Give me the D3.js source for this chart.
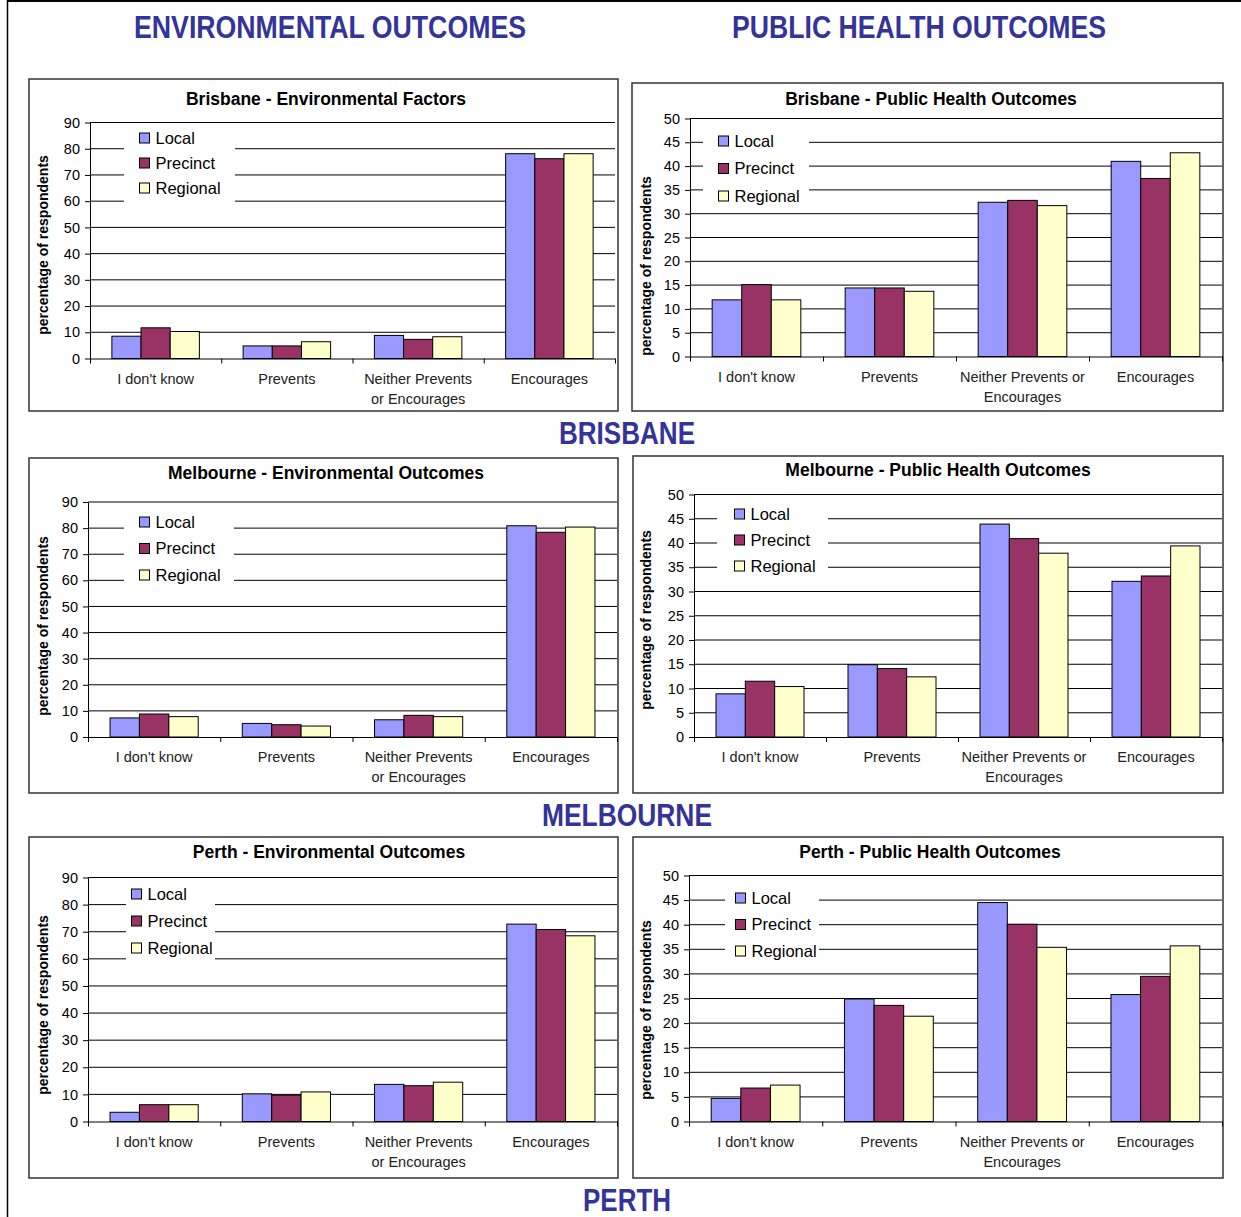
<!DOCTYPE html>
<html>
<head>
<meta charset="utf-8">
<script src="https://cdn.jsdelivr.net/npm/d3@7"></script>
<style>
  body { margin: 0; background: #fff; }
  svg text { font-family: "Liberation Sans", Arial, sans-serif; }
</style>
</head>
<body>
<div id="page"></div>
<script>
const seriesNames = ['Local', 'Precinct', 'Regional'];
const seriesColors = ['#9999ff', '#993366', '#ffffcc'];
const categories = ["I don't know", 'Prevents', 'Neither Prevents or Encourages', 'Encourages'];
const envCategoryLines = [["I don't know"], ['Prevents'], ['Neither Prevents', 'or Encourages'], ['Encourages']];
const healthCategoryLines = [["I don't know"], ['Prevents'], ['Neither Prevents or', 'Encourages'], ['Encourages']];
const envTicks = [0, 10, 20, 30, 40, 50, 60, 70, 80, 90];
const healthTicks = [0, 5, 10, 15, 20, 25, 30, 35, 40, 45, 50];
const pageHeadings = ['ENVIRONMENTAL OUTCOMES', 'PUBLIC HEALTH OUTCOMES'];
const cityHeadings = ['BRISBANE', 'MELBOURNE', 'PERTH'];

// one row per series (Local, Precinct, Regional), one value per category
const brisbaneEnv = [[8.5, 4.8, 8.8, 78.1], [11.7, 4.8, 7.3, 76.2], [10.3, 6.4, 8.3, 78.1]];
const brisbaneHealth = [[11.9, 14.4, 32.4, 41.0], [15.1, 14.4, 32.8, 37.4], [11.9, 13.7, 31.7, 42.8]];
const melbourneEnv = [[7.3, 5.2, 6.6, 80.9], [8.8, 4.7, 8.3, 78.4], [7.8, 4.2, 7.8, 80.4]];
const melbourneHealth = [[8.9, 14.9, 43.9, 32.1], [11.5, 14.1, 40.9, 33.2], [10.4, 12.4, 37.9, 39.4]];
const perthEnv = [[3.4, 10.2, 13.7, 72.8], [6.2, 9.7, 13.2, 70.8], [6.2, 10.9, 14.5, 68.5]];
const perthHealth = [[4.7, 24.9, 44.5, 25.8], [6.8, 23.6, 40.1, 29.5], [7.4, 21.4, 35.4, 35.7]];

class BarPanel {
  constructor(svg, opts) {
    this.svg = svg;
    this.opts = opts;
    this.g = null;
    this.xScale = null;
    this.yScale = null;
  }

  render() {
    this.g = this.svg.append('g');
    this.drawFrame();
    this.initScales();
    this.drawGrid();
    this.drawBars();
    this.drawAxes();
    this.drawLegend();
    this.drawLabels();
  }

  drawFrame() {
    let b = this.opts.box;
    this.g.append('rect')
      .attr('x', b[0]).attr('y', b[1])
      .attr('width', b[2] - b[0]).attr('height', b[3] - b[1])
      .attr('fill', '#fff')
      .attr('stroke', '#333')
      .attr('stroke-width', 1.5);
  }

  initScales() {
    let p = this.opts.plot;
    let ticks = this.opts.ticks;
    this.xScale = d3.scaleBand().domain(categories).range([p[0], p[2]]);
    this.yScale = d3.scaleLinear().domain([0, ticks[ticks.length - 1]]).range([p[3], p[1]]);
    // Excel gap width 150%
    this.barWidth = this.xScale.bandwidth() / 4.5;
    this.seriesScale = d3.scaleBand().domain(seriesNames).range([0, 3 * this.barWidth]);
  }

  drawGrid() {
    let p = this.opts.plot;
    this.g.append('g')
      .selectAll('line')
      .data(this.opts.ticks.filter(t => t > 0))
      .join('line')
      .attr('x1', p[0]).attr('x2', p[2])
      .attr('y1', d => this.yScale(d)).attr('y2', d => this.yScale(d))
      .attr('stroke', '#000')
      .attr('stroke-width', 1);
  }

  drawBars() {
    let offset = (this.xScale.bandwidth() - 3 * this.barWidth) / 2;
    let rows = [];
    this.opts.data.forEach((vals, i) => {
      vals.forEach((v, j) => rows.push({ series: seriesNames[i], color: seriesColors[i], cat: categories[j], value: v }));
    });
    this.g.append('g')
      .selectAll('rect')
      .data(rows)
      .join('rect')
      .attr('x', d => this.xScale(d.cat) + offset + this.seriesScale(d.series))
      .attr('y', d => this.yScale(d.value))
      .attr('width', this.seriesScale.bandwidth())
      .attr('height', d => this.yScale(0) - this.yScale(d.value))
      .attr('fill', d => d.color)
      .attr('stroke', '#000')
      .attr('stroke-width', 1);
  }

  drawAxes() {
    let p = this.opts.plot;
    let yAxis = d3.axisLeft(this.yScale)
      .tickValues(this.opts.ticks)
      .tickSize(5)
      .tickSizeOuter(0)
      .tickPadding(5);
    let yg = this.g.append('g')
      .attr('transform', 'translate(' + p[0] + ',0)')
      .call(yAxis);
    yg.selectAll('text').attr('font-size', 14.5).attr('fill', '#000');

    let boundaries = d3.scaleLinear().domain([0, categories.length]).range([p[0], p[2]]);
    let xAxis = d3.axisBottom(boundaries)
      .tickValues(d3.range(categories.length + 1))
      .tickFormat('')
      .tickSize(5)
      .tickSizeOuter(0);
    this.g.append('g')
      .attr('transform', 'translate(0,' + p[3] + ')')
      .call(xAxis);

    this.g.selectAll('.domain, .tick line').attr('stroke', '#000');
  }

  drawLegend() {
    let lg = this.opts.legend;
    let box = this.opts.legendBox;
    let leg = this.g.append('g');
    leg.append('rect')
      .attr('x', box[0]).attr('y', box[1])
      .attr('width', box[2]).attr('height', box[3])
      .attr('fill', '#fff');
    let rows = leg.selectAll('g')
      .data(seriesNames)
      .join('g')
      .attr('transform', (d, i) => 'translate(' + lg[0] + ',' + (lg[1] + i * lg[2]) + ')');
    rows.append('rect')
      .attr('x', 0).attr('y', -5)
      .attr('width', 10).attr('height', 10)
      .attr('fill', (d, i) => seriesColors[i])
      .attr('stroke', '#000');
    rows.append('text')
      .attr('x', 16).attr('y', 5.5)
      .attr('font-size', 16.5)
      .text(d => d);
  }

  drawLabels() {
    let p = this.opts.plot;
    this.g.append('text')
      .attr('x', this.opts.titleX).attr('y', this.opts.titleY)
      .attr('text-anchor', 'middle')
      .attr('font-size', 17.5)
      .attr('font-weight', 'bold')
      .text(this.opts.title);

    this.g.append('text')
      .attr('transform', 'translate(' + this.opts.yLabel[0] + ',' + this.opts.yLabel[1] + ') rotate(-90)')
      .attr('text-anchor', 'middle')
      .attr('font-size', 14)
      .attr('font-weight', 'bold')
      .text('percentage of respondents');

    let cat = this.g.append('g')
      .selectAll('text')
      .data(categories)
      .join('text')
      .attr('x', d => this.xScale(d) + this.xScale.bandwidth() / 2)
      .attr('y', p[3] + 25)
      .attr('text-anchor', 'middle')
      .attr('font-size', 14.5)
      .attr('fill', '#222');
    cat.selectAll('tspan')
      .data((d, i) => this.opts.catLines[i])
      .join('tspan')
      .attr('x', function() { return this.parentNode.getAttribute('x'); })
      .attr('dy', (d, i) => i === 0 ? 0 : 20)
      .text(d => d);
  }
}

const svg = d3.select('#page')
  .append('svg')
  .attr('width', 1241)
  .attr('height', 1217);

// page border
svg.append('line').attr('x1', 7).attr('x2', 1241).attr('y1', 1).attr('y2', 1)
  .attr('stroke', '#000').attr('stroke-width', 2);
svg.append('line').attr('x1', 7.5).attr('x2', 7.5).attr('y1', 0).attr('y2', 1217)
  .attr('stroke', '#000').attr('stroke-width', 1.5);

const headingStyle = (sel) => sel
  .attr('text-anchor', 'middle')
  .attr('font-size', 31)
  .attr('font-weight', 'bold')
  .attr('fill', '#333399')
  .attr('lengthAdjust', 'spacingAndGlyphs');

headingStyle(svg.append('text').attr('x', 330).attr('y', 38).attr('textLength', 392)).text(pageHeadings[0]);
headingStyle(svg.append('text').attr('x', 919).attr('y', 38).attr('textLength', 374)).text(pageHeadings[1]);
headingStyle(svg.append('text').attr('x', 627).attr('y', 444).attr('textLength', 136)).text(cityHeadings[0]);
headingStyle(svg.append('text').attr('x', 627).attr('y', 826).attr('textLength', 170)).text(cityHeadings[1]);
headingStyle(svg.append('text').attr('x', 627).attr('y', 1211).attr('textLength', 88)).text(cityHeadings[2]);

const panels = [
  { title: 'Brisbane - Environmental Factors', data: brisbaneEnv, ticks: envTicks, catLines: envCategoryLines,
    box: [29, 79, 618, 411], plot: [90, 122.5, 615, 358.5], titleX: 326, titleY: 105, yLabel: [48, 245],
    legend: [139.5, 138, 25], legendBox: [124, 127, 111, 78] },
  { title: 'Brisbane - Public Health Outcomes', data: brisbaneHealth, ticks: healthTicks, catLines: healthCategoryLines,
    box: [632, 83, 1223, 411], plot: [690, 118.5, 1222, 356.5], titleX: 931, titleY: 105, yLabel: [651, 266],
    legend: [718.5, 141, 27.5], legendBox: [703, 127, 106, 80] },
  { title: 'Melbourne - Environmental Outcomes', data: melbourneEnv, ticks: envTicks, catLines: envCategoryLines,
    box: [29, 458, 618, 793], plot: [88, 502, 617, 737], titleX: 326, titleY: 479, yLabel: [48, 626],
    legend: [139.5, 522, 26.5], legendBox: [124, 508, 110, 82] },
  { title: 'Melbourne - Public Health Outcomes', data: melbourneHealth, ticks: healthTicks, catLines: healthCategoryLines,
    box: [633, 456, 1223, 793], plot: [694, 494.5, 1222, 737], titleX: 938, titleY: 476, yLabel: [651, 620],
    legend: [734.5, 514, 26], legendBox: [717, 503, 111, 78] },
  { title: 'Perth - Environmental Outcomes', data: perthEnv, ticks: envTicks, catLines: envCategoryLines,
    box: [29, 837, 618, 1178], plot: [88, 877.5, 617, 1121.5], titleX: 329, titleY: 858, yLabel: [48, 1005],
    legend: [131.5, 894, 27], legendBox: [126, 882, 89, 86] },
  { title: 'Perth - Public Health Outcomes', data: perthHealth, ticks: healthTicks, catLines: healthCategoryLines,
    box: [633, 837, 1223, 1178], plot: [689, 875.5, 1222, 1121.5], titleX: 930, titleY: 858, yLabel: [651, 1010],
    legend: [735.5, 898, 26.5], legendBox: [725, 885, 94, 78] }
];

panels.forEach(opts => new BarPanel(svg, opts).render());
</script>
</body>
</html>
